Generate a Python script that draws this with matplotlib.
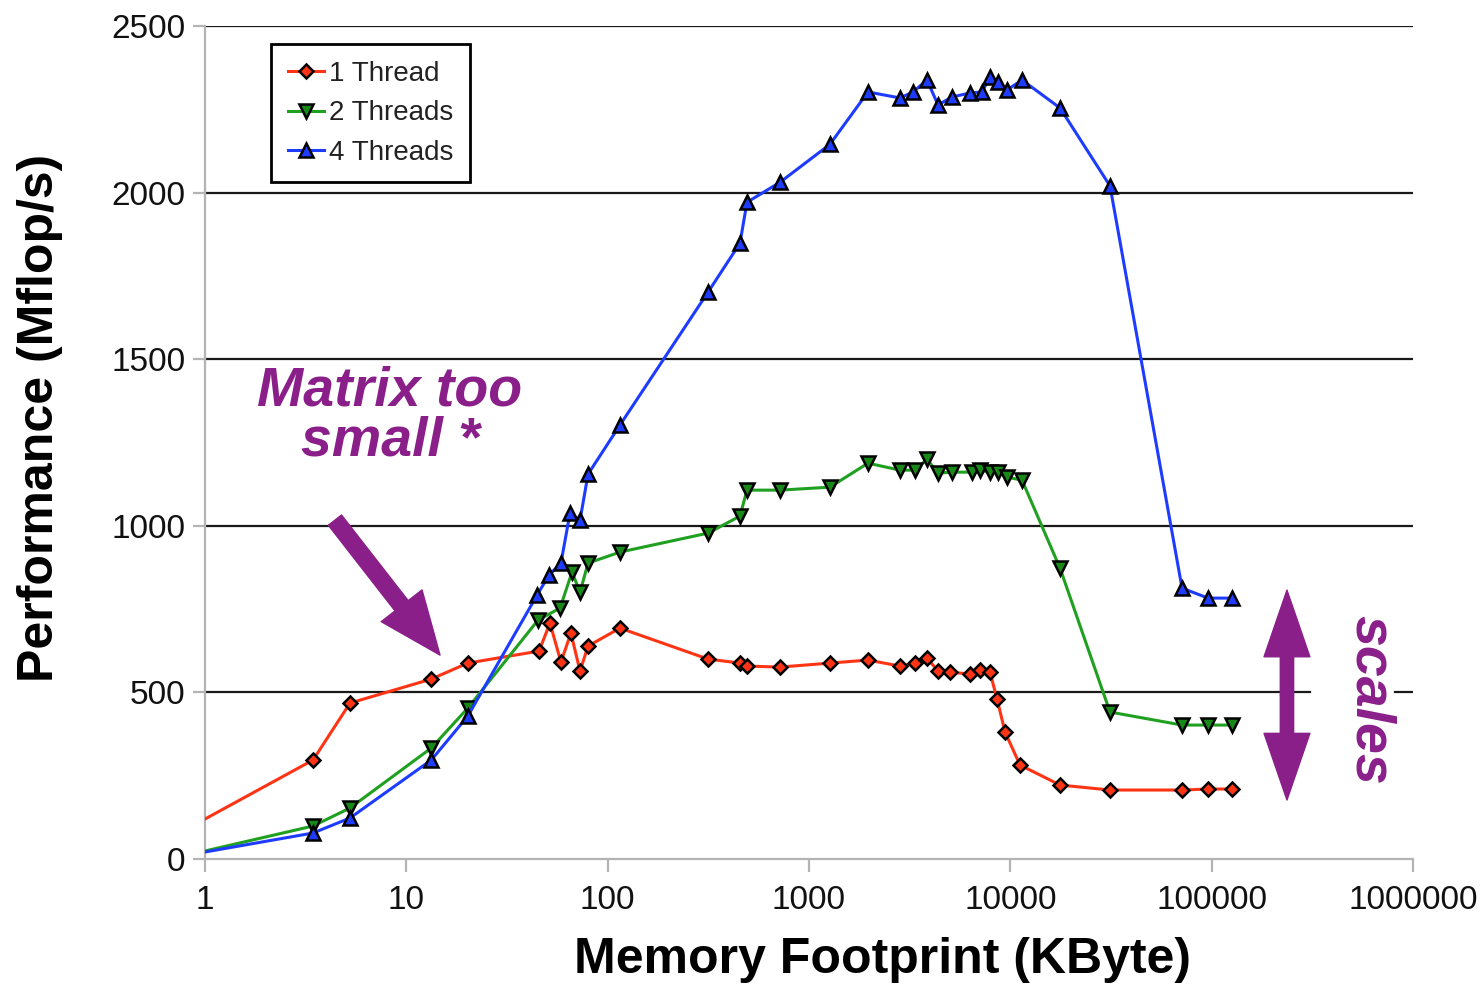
import matplotlib
matplotlib.use("Agg")
import matplotlib.pyplot as plt

# ----------------------------
# Data (memory footprint in KByte, performance in Mflop/s)
# ----------------------------
x_1t = [1, 3.44, 5.25, 13.3, 20.2, 45.6, 51.7, 58.6, 65.7, 72.9, 79.9, 115,
        315, 454, 492, 718, 1271, 1963, 2832, 3363, 3855, 4375, 5013, 6310,
        7063, 7925, 8590, 9413, 11170, 17650, 31270, 71260, 95900, 126200]
y_1t = [120, 297, 468, 540, 588, 624, 708, 591, 678, 564, 639, 693,
        600, 588, 579, 576, 588, 597, 579, 588, 603, 564, 561, 555,
        567, 561, 480, 381, 282, 222, 207, 207, 210, 210]

x_2t = [1, 3.44, 5.25, 13.3, 20.2, 45.1, 58.0, 66.5, 72.9, 79.9, 115,
        315, 454, 492, 718, 1271, 1963, 2832, 3363, 3855, 4375, 5130, 6450,
        7063, 7925, 8690, 9630, 11430, 17650, 31270, 71260, 95900, 126200]
y_2t = [24, 99, 153, 333, 453, 717, 753, 861, 801, 888, 921,
        978, 1029, 1107, 1107, 1116, 1188, 1167, 1167, 1200, 1158, 1161, 1161,
        1167, 1161, 1161, 1146, 1137, 873, 441, 402, 402, 402]

x_4t = [1, 3.44, 5.25, 13.3, 20.2, 44.6, 51.1, 58.6, 65.0, 72.9, 79.9, 115,
        315, 454, 492, 718, 1271, 1963, 2832, 3286, 3855, 4375, 5130, 6310,
        7230, 7925, 8690, 9630, 11430, 17650, 31270, 71260, 95900, 126200]
y_4t = [21, 78, 123, 297, 429, 792, 852, 888, 1038, 1017, 1155, 1302,
        1701, 1848, 1971, 2031, 2145, 2302, 2284, 2302, 2338, 2263, 2287, 2299,
        2302, 2347, 2332, 2308, 2338, 2254, 2020, 813, 783, 783]

series = [
    ("1 Thread", x_1t, y_1t, "#ff3414", "#ff3414", "D", 7),
    ("2 Threads", x_2t, y_2t, "#20a020", "#188818", "v", 10),
    ("4 Threads", x_4t, y_4t, "#1e3cff", "#1e3cff", "^", 10),
]

yticks = [0, 500, 1000, 1500, 2000, 2500]
xticks = [1, 10, 100, 1000, 10000, 100000, 1000000]

purple = "#8a1f8a"
gray = "#b4b4b4"

fig = plt.figure(figsize=(14.84, 9.89), dpi=100)
ax = fig.add_axes([205 / 1484, 1 - 859 / 989, 1208 / 1484, 833 / 989])

for label, xs, ys, lc, fc, mk, ms in series:
    ax.plot(xs, ys, color=lc, lw=2.2, marker=mk, markersize=ms,
            markerfacecolor=fc, markeredgecolor="black", markeredgewidth=1.8,
            markevery=list(range(1, len(xs))), label=label, zorder=3)

ax.set_xscale("log")
ax.set_xlim(1, 1000000)
ax.set_ylim(0, 2500)
ax.set_xticks(xticks)
ax.set_xticklabels([str(t) for t in xticks])
ax.minorticks_off()
ax.set_yticks(yticks)
ax.set_yticklabels([str(t) for t in yticks])

# gridlines; the 500 line is broken where the "scales" label sits
for t in yticks[1:]:
    if t == 500:
        ax.axhline(t, xmax=0.915, color="#1a1a1a", lw=1.6, zorder=1)
        ax.axhline(t, xmin=0.985, color="#1a1a1a", lw=1.6, zorder=1)
    else:
        ax.axhline(t, color="#1a1a1a", lw=1.6, zorder=1)

for side in ["top", "right"]:
    ax.spines[side].set_visible(False)
for side in ["left", "bottom"]:
    ax.spines[side].set_color(gray)
    ax.spines[side].set_linewidth(1.6)

ax.tick_params(axis="both", colors=gray, width=1.6, length=9, labelsize=24,
               labelcolor="#111111")
ax.tick_params(axis="y", pad=5)
ax.tick_params(axis="x", pad=10)
for lab in ax.get_xticklabels() + ax.get_yticklabels():
    lab.set_family("Liberation Sans")

fig.text(40 / 1484, 1 - 418 / 989, "Performance (Mflop/s)", rotation=90,
         ha="center", va="center", fontsize=36, fontweight="bold",
         family="Liberation Sans")
fig.text(882 / 1484, 1 - 960 / 989, "Memory Footprint (KByte)",
         ha="center", va="center", fontsize=36, fontweight="bold",
         family="Liberation Sans")

leg = ax.legend(loc="upper left", bbox_to_anchor=(0.0546, 0.978),
                borderaxespad=0, fancybox=False, framealpha=1,
                edgecolor="black", handlelength=1.3, handletextpad=0.2,
                labelspacing=0.48, borderpad=0.6,
                prop={"family": "Liberation Sans", "size": 20})
leg.get_frame().set_linewidth(2)
for t in leg.get_texts():
    t.set_color("#222222")

# annotations
ax.text(8.3, 1327, "Matrix too\nsmall *", ha="center", va="center",
        fontsize=40, fontweight="bold", style="italic", color=purple,
        family="Liberation Sans", linespacing=0.95, zorder=4)
ax.annotate("", xy=(14.7, 612), xytext=(4.42, 1017),
            arrowprops=dict(arrowstyle="simple,head_length=0.75,head_width=0.62,tail_width=0.2",
                            color=purple, shrinkA=0, shrinkB=0, mutation_scale=60))

for y_end in [807, 177]:
    ax.annotate("", xy=(236600, y_end), xytext=(236600, 492),
                arrowprops=dict(arrowstyle="simple,head_length=0.8,head_width=0.55,tail_width=0.16",
                                color=purple, shrinkA=0, shrinkB=0, mutation_scale=60))

ax.text(611000, 477, "scales", rotation=-90, ha="center", va="center",
        fontsize=40, fontweight="bold", style="italic", color=purple,
        family="Liberation Sans", zorder=4)

fig.savefig("out.png", dpi=100)
